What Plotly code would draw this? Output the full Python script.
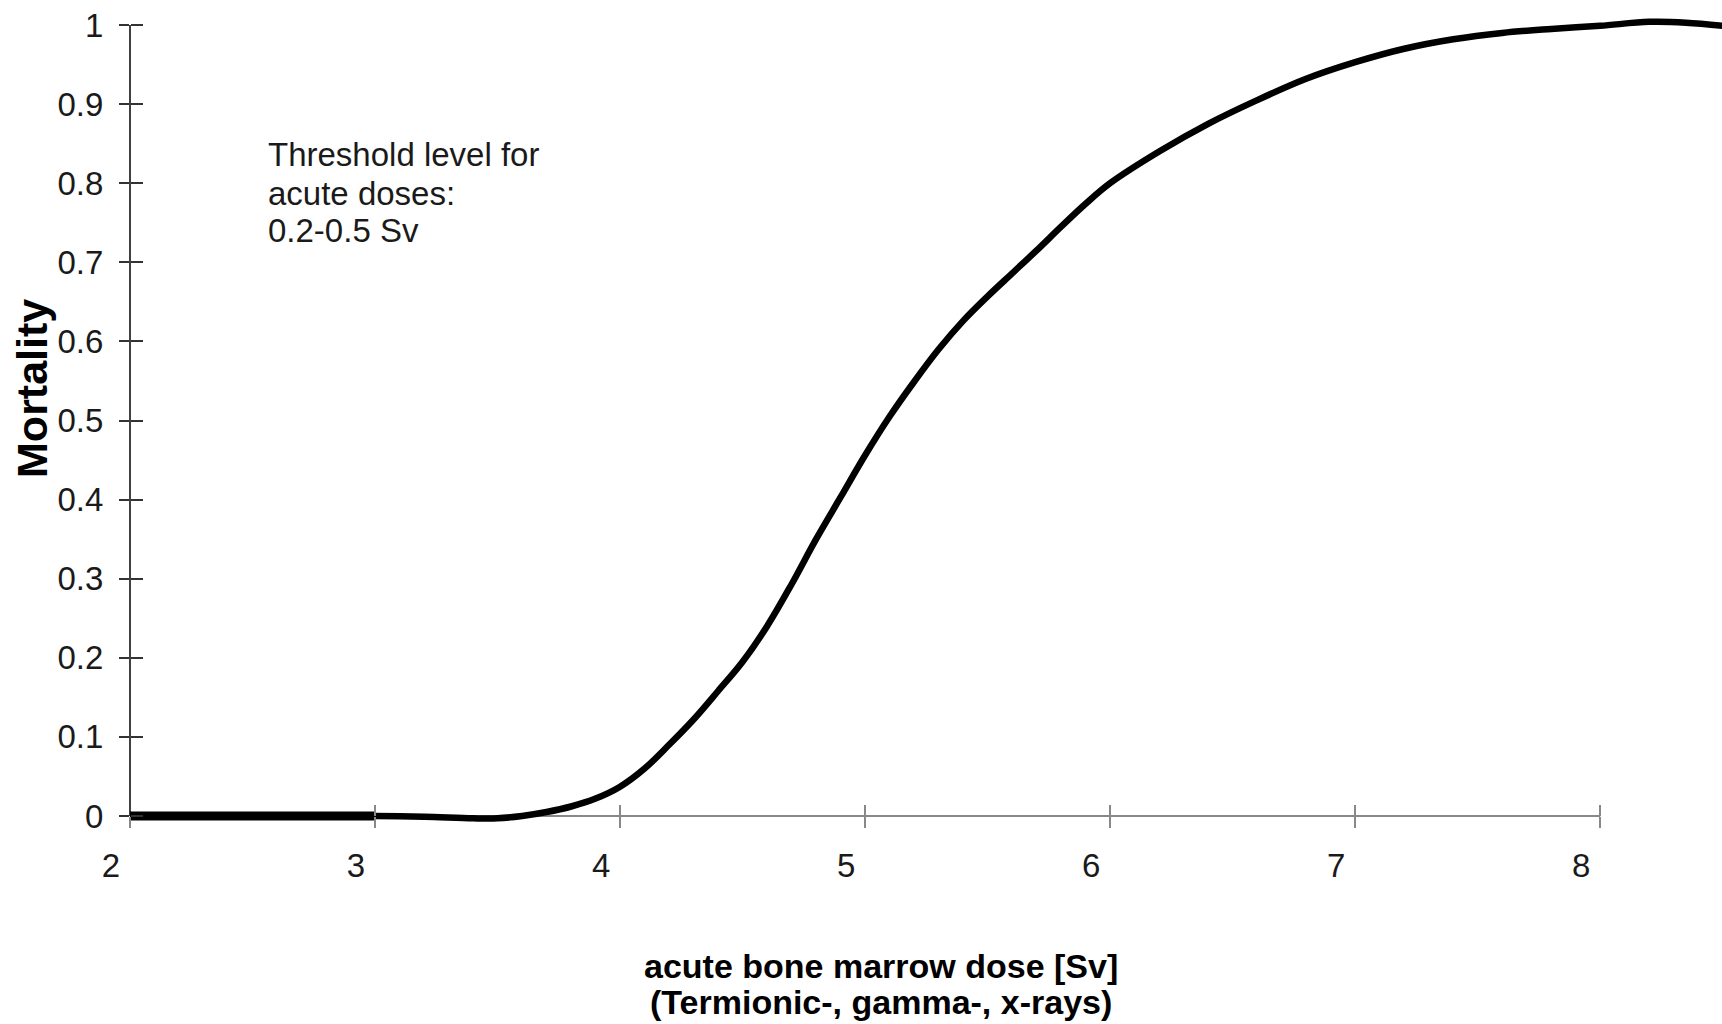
import plotly.graph_objects as go

# ---- data ----
dose = [2.0, 2.5, 3.0, 3.2, 3.4, 3.5, 3.6, 3.7, 3.8, 3.9, 4.0, 4.1, 4.2, 4.3, 4.4, 4.5,
        4.6, 4.7, 4.8, 4.9, 5.0, 5.1, 5.2, 5.3, 5.4, 5.5, 5.6, 5.7, 5.8, 5.9, 6.0, 6.2,
        6.4, 6.6, 6.8, 7.0, 7.2, 7.4, 7.6, 7.8, 8.0, 8.2, 8.35, 8.5]
mortality = [0.000, 0.000, 0.000, -0.001, -0.003, -0.003, 0.000, 0.005, 0.012, 0.022,
             0.037, 0.060, 0.090, 0.122, 0.158, 0.195, 0.240, 0.293, 0.350, 0.403,
             0.456, 0.505, 0.549, 0.590, 0.626, 0.657, 0.686, 0.715, 0.745, 0.774,
             0.800, 0.840, 0.875, 0.905, 0.932, 0.953, 0.970, 0.982, 0.990, 0.995,
             0.999, 1.004, 1.003, 0.999]
x_ticks = [2, 3, 4, 5, 6, 7, 8]
y_ticks = [0, 0.1, 0.2, 0.3, 0.4, 0.5, 0.6, 0.7, 0.8, 0.9, 1.0]
y_tick_labels = ["0", "0.1", "0.2", "0.3", "0.4", "0.5", "0.6", "0.7", "0.8", "0.9", "1"]
note_lines = ["Threshold level for", "acute doses:", "0.2-0.5 Sv"]
x_title_lines = ["acute bone marrow dose [Sv]", "(Termionic-, gamma-, x-rays)"]
y_title = "Mortality"

# ---- layout parameters ----
X_RANGE = [2, 8.497]
Y_RANGE = [-0.0253, 1.0253]
FONT = "Liberation Sans, Arial, sans-serif"
TXT = "#1a1a1a"


def fx(v):
    return (v - X_RANGE[0]) / (X_RANGE[1] - X_RANGE[0])


def fy(v):
    return (v - Y_RANGE[0]) / (Y_RANGE[1] - Y_RANGE[0])


fig = go.Figure()

# thicker segment where the curve runs along the axis
base_x = [d for d in dose if d <= 3]
base_y = [m for d, m in zip(dose, mortality) if d <= 3]
fig.add_trace(go.Scatter(x=base_x, y=base_y, mode="lines",
                         line=dict(color="black", width=9),
                         hoverinfo="skip", showlegend=False))
fig.add_trace(go.Scatter(x=dose, y=mortality, mode="lines",
                         line=dict(color="black", width=6.5, shape="spline", smoothing=1.0),
                         showlegend=False))
# invisible trace to activate overlay axes (crossing tick marks)
fig.add_trace(go.Scatter(x=dose, y=mortality, xaxis="x2", yaxis="y2", mode="lines",
                         line=dict(width=0), opacity=0, hoverinfo="skip", showlegend=False))

x_pos = fy(0)

fig.update_layout(
    width=1722, height=1024, autosize=False,
    margin=dict(l=130, r=0, t=5, b=188),
    paper_bgcolor="white", plot_bgcolor="white",
    font=dict(family=FONT, color=TXT),
    xaxis=dict(range=X_RANGE, tickvals=x_ticks, ticks="outside", ticklen=11,
               tickwidth=2, tickcolor="#888", showline=False, showgrid=False,
               zeroline=False, anchor="free", position=x_pos,
               ticklabelshift=-19, ticklabelstandoff=9,
               tickfont=dict(size=33, color=TXT, family=FONT)),
    xaxis2=dict(range=X_RANGE, tickvals=x_ticks, ticks="inside", ticklen=11,
                tickwidth=2, tickcolor="#888", showline=False, showgrid=False,
                zeroline=False, anchor="free", position=x_pos, overlaying="x",
                showticklabels=False),
    yaxis=dict(range=Y_RANGE, tickvals=y_ticks, ticktext=y_tick_labels,
               ticks="outside", ticklen=10, tickwidth=1.5, tickcolor="#333",
               showline=False, showgrid=False, zeroline=False,
               ticklabelstandoff=9,
               tickfont=dict(size=33, color=TXT, family=FONT)),
    yaxis2=dict(range=Y_RANGE, tickvals=y_ticks, ticks="inside", ticklen=12,
                tickwidth=1.5, tickcolor="#333", showline=False, showgrid=False,
                zeroline=False, overlaying="y", anchor="free", position=0,
                side="left", showticklabels=False),
    shapes=[
        dict(type="line", xref="paper", yref="paper", layer="below",
             x0=0, x1=fx(x_ticks[-1]), y0=fy(0), y1=fy(0),
             line=dict(color="#888", width=2)),
        dict(type="line", xref="paper", yref="paper", layer="below",
             x0=0, x1=0, y0=fy(y_ticks[0]), y1=fy(y_ticks[-1]),
             line=dict(color="black", width=1.5)),
    ],
)

# note text
note_y = [0.8357, 0.7876, 0.7408]
for line, yv in zip(note_lines, note_y):
    fig.add_annotation(x=2.555, y=yv, xref="x", yref="y", text=line, showarrow=False,
                       xanchor="left", yanchor="middle",
                       font=dict(size=33, color=TXT, family=FONT))

# x title (two lines)
for line, yv in zip(x_title_lines, [-0.1564, -0.1993]):
    fig.add_annotation(x=0.4717, y=yv, xref="paper", yref="paper", text=line,
                       showarrow=False, xanchor="center", yanchor="middle",
                       font=dict(size=34, color="black", family=FONT, weight="bold"))

# y title
fig.add_annotation(x=-0.0615, y=0.54, xref="paper", yref="y", text=y_title,
                   showarrow=False, textangle=-90, xanchor="center", yanchor="middle",
                   font=dict(size=43, color="black", family=FONT, weight="bold"))

fig.write_html("out.html", config={"displayModeBar": False},
               post_script="document.body.style.margin='0px';")
